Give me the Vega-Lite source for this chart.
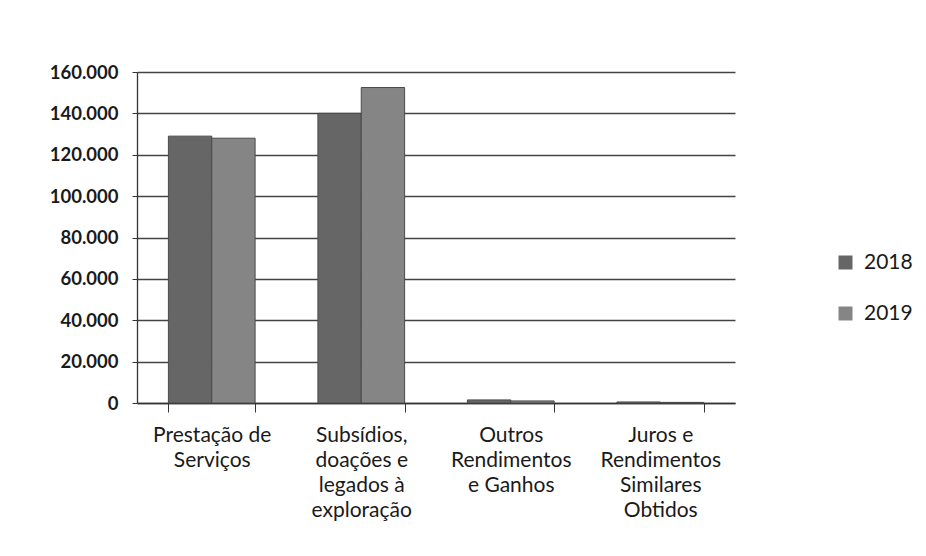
{
  "$schema": "https://vega.github.io/schema/vega-lite/v6.json",
  "autosize": {"type": "none"},
  "width": 598,
  "height": 331,
  "padding": {"left": 137, "top": 72, "right": 191, "bottom": 153},
  "background": "white",
  "config": {
    "locale": {"number": {"decimal": ",", "thousands": ".", "grouping": [3], "currency": ["", " €"]}},
    "font": "Lato",
    "view": {"stroke": null},
    "axis": {"labelFont": "Lato", "labelColor": "#1a1a1a", "domainColor": "#333", "tickColor": "#333", "gridColor": "#444", "gridWidth": 1.3}
  },
  "data": {
    "values": [
      {"categoria": "Prestação de|Serviços", "ano": "2018", "valor": 129000},
      {"categoria": "Prestação de|Serviços", "ano": "2019", "valor": 128000},
      {"categoria": "Subsídios,|doações e|legados à|exploração", "ano": "2018", "valor": 140000},
      {"categoria": "Subsídios,|doações e|legados à|exploração", "ano": "2019", "valor": 152500},
      {"categoria": "Outros|Rendimentos|e Ganhos", "ano": "2018", "valor": 1500},
      {"categoria": "Outros|Rendimentos|e Ganhos", "ano": "2019", "valor": 1000},
      {"categoria": "Juros e|Rendimentos|Similares|Obtidos", "ano": "2018", "valor": 500},
      {"categoria": "Juros e|Rendimentos|Similares|Obtidos", "ano": "2019", "valor": 300}
    ]
  },
  "mark": {"type": "bar", "stroke": "#4a4a4a", "strokeWidth": 1},
  "encoding": {
    "x": {
      "field": "categoria", "type": "nominal", "sort": null,
      "scale": {"paddingInner": 0.42, "paddingOuter": 0.21},
      "axis": {"title": null, "labelAngle": 0, "labelExpr": "split(datum.label, '|')", "labelLineHeight": 25, "labelPadding": 12, "tickSize": 9, "tickBand": "extent", "domainWidth": 1.3, "labelFontSize": 21}
    },
    "xOffset": {"field": "ano", "type": "nominal"},
    "y": {
      "field": "valor", "type": "quantitative",
      "scale": {"domain": [0, 160000]},
      "axis": {"title": null, "values": [0, 20000, 40000, 60000, 80000, 100000, 120000, 140000, 160000], "format": ",d", "tickSize": 5, "labelPadding": 14, "domainWidth": 1.3, "labelFontSize": 18.5, "labelFontWeight": "bold"}
    },
    "color": {
      "field": "ano", "type": "nominal",
      "scale": {"range": ["#666666", "#858585"]},
      "legend": {"title": null, "orient": "none", "legendX": 698, "legendY": 180, "symbolType": "square", "symbolSize": 196, "symbolStrokeWidth": 0, "labelFontSize": 21, "labelColor": "#1a1a1a", "rowPadding": 29, "labelOffset": 8}
    }
  }
}
